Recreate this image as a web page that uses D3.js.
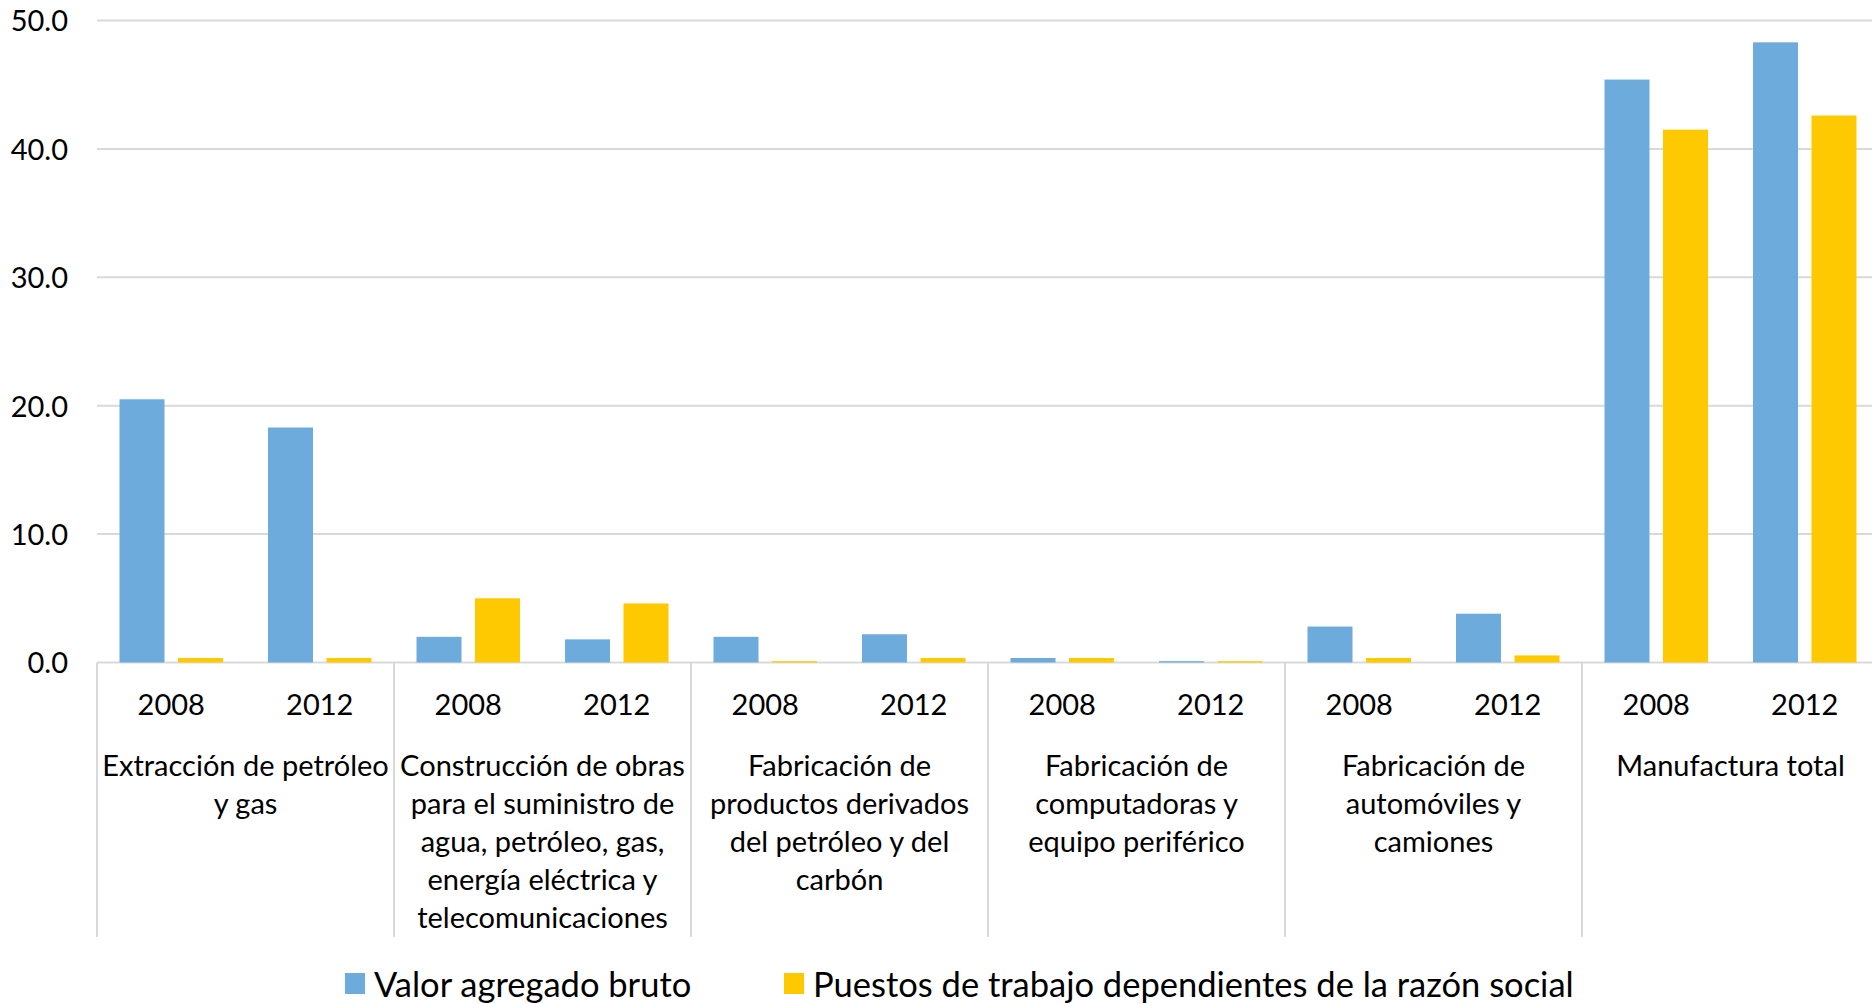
<!DOCTYPE html>
<html>
<head>
<meta charset="utf-8">
<script src="https://cdn.jsdelivr.net/npm/d3@7"></script>
<style>
  html, body { margin: 0; padding: 0; background: #fff; overflow: hidden; }
  svg { display: block; font-family: Lato, "Open Sans", sans-serif; }
</style>
</head>
<body>
<div id="chart"></div>
<script>
// years shown under each bar pair
const years = ["2008", "2012"]

// industry groups, already broken into lines as in the original
const sectors = [
  ["Extracción de petróleo", "y gas"],
  ["Construcción de obras", "para el suministro de", "agua, petróleo, gas,", "energía eléctrica y", "telecomunicaciones"],
  ["Fabricación de", "productos derivados", "del petróleo y del", "carbón"],
  ["Fabricación de", "computadoras y", "equipo periférico"],
  ["Fabricación de", "automóviles y", "camiones"],
  ["Manufactura total"]
]

// one value per sector/year, in order
const valorAgregado = [20.5, 18.3, 2.0, 1.8, 2.0, 2.2, 0.35, 0.1, 2.8, 3.8, 45.4, 48.3]
const puestos = [0.35, 0.35, 5.0, 4.6, 0.1, 0.35, 0.35, 0.1, 0.35, 0.55, 41.5, 42.6]

const seriesNames = ["Valor agregado bruto", "Puestos de trabajo dependientes de la razón social"]
const seriesColors = ["#6cabdc", "#ffc900"]

const yTicks = [0, 10, 20, 30, 40, 50]

const width = 1872
const height = 1004
const margin = { top: 20.5, left: 97, bottom: 662.5 }
const groupWidth = 297

/* flatten into one row per bar slot */
const rows = []
sectors.forEach((s, i) => {
  years.forEach((yr, j) => {
    const k = i * years.length + j
    rows.push({ key: `${i}-${yr}`, sector: i, year: yr, values: [valorAgregado[k], puestos[k]] })
  })
})

const svg = d3.select("#chart").append("svg")
  .attr("width", width)
  .attr("height", height)
  .attr("viewBox", `0 0 ${width} ${height}`)

const x = d3.scaleBand()
  .domain(rows.map(d => d.key))
  .range([margin.left, margin.left + groupWidth * sectors.length])

// excel style: overlap -30%, gap width 100%
const xs = d3.scaleBand()
  .domain([0, 1])
  .range([0, x.bandwidth()])
  .paddingInner(0.3 / 1.3)
  .paddingOuter(0.5 / 1.3)

const y = d3.scaleLinear()
  .domain([0, 50])
  .range([margin.bottom, margin.top])

/* gridlines */
svg.append("g")
  .selectAll("line")
  .data(yTicks)
  .join("line")
  .attr("x1", margin.left)
  .attr("x2", width)
  .attr("y1", d => y(d))
  .attr("y2", d => y(d))
  .attr("stroke", "#d9d9d9")
  .attr("stroke-width", 2)

/* y labels */
const yAxis = svg.append("g")
  .attr("transform", `translate(${margin.left - 29},0)`)
  .call(d3.axisLeft(y).tickValues(yTicks).tickFormat(d3.format(".1f")).tickSize(0).tickPadding(0))
yAxis.select(".domain").remove()
yAxis.selectAll("text")
  .attr("font-family", "Lato, 'Open Sans', sans-serif")
  .attr("font-size", 29)
  .attr("fill", "#000")
  .attr("dy", "0.36em")

/* bars */
svg.append("g")
  .selectAll("g")
  .data(rows)
  .join("g")
  .attr("transform", d => `translate(${x(d.key)},0)`)
  .selectAll("rect")
  .data(d => d.values.map((v, i) => ({ v, i })))
  .join("rect")
  .attr("x", d => xs(d.i))
  .attr("width", xs.bandwidth())
  .attr("y", d => y(d.v))
  .attr("height", d => y(0) - y(d.v))
  .attr("fill", d => seriesColors[d.i])

/* category separators */
const sepBottom = 937
svg.append("g")
  .selectAll("line")
  .data(d3.range(sectors.length + 1))
  .join("line")
  .attr("x1", i => margin.left + i * groupWidth)
  .attr("x2", i => margin.left + i * groupWidth)
  .attr("y1", margin.bottom)
  .attr("y2", sepBottom)
  .attr("stroke", "#d9d9d9")
  .attr("stroke-width", 2)

/* year labels */
svg.append("g")
  .selectAll("text")
  .data(rows)
  .join("text")
  .attr("x", d => x(d.key) + x.bandwidth() / 2)
  .attr("y", 715)
  .attr("text-anchor", "middle")
  .attr("font-size", 29)
  .text(d => d.year)

/* sector labels */
svg.append("g")
  .selectAll("text")
  .data(sectors)
  .join("text")
  .attr("text-anchor", "middle")
  .attr("font-size", 29)
  .attr("transform", (d, i) => `translate(${margin.left + (i + 0.5) * groupWidth},776)`)
  .selectAll("tspan")
  .data(d => d)
  .join("tspan")
  .attr("x", 0)
  .attr("y", (d, i) => i * 38)
  .text(d => d)

/* legend */
const legendX = [345, 784]
const legend = svg.append("g")
  .selectAll("g")
  .data(seriesNames)
  .join("g")
  .attr("transform", (d, i) => `translate(${legendX[i]},973)`)
legend.append("rect")
  .attr("width", 20)
  .attr("height", 21)
  .attr("fill", (d, i) => seriesColors[i])
legend.append("text")
  .attr("x", 29)
  .attr("y", 24)
  .attr("font-size", 34.5)
  .text(d => d)
</script>
</body>
</html>
